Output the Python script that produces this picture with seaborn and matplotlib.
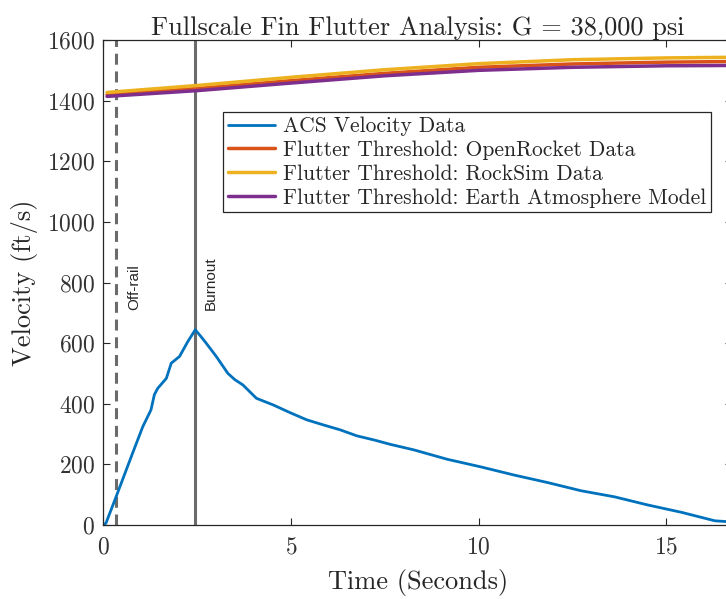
import matplotlib.pyplot as plt
import seaborn as sns

# ACS velocity data
acs_time = [0.0, 0.07, 0.34, 0.78, 1.05, 1.27, 1.36, 1.45, 1.68, 1.81, 2.03, 2.25, 2.45,
            2.6, 2.74, 3.01, 3.32, 3.5, 3.72, 4.08, 4.53, 4.97, 5.42, 5.87, 6.31, 6.76, 7.2,
            7.65, 8.27, 9.16, 10.05, 10.94, 11.84, 12.73, 13.62, 14.51, 15.4, 16.29, 16.75]
acs_vel = [0, 6, 93, 237, 324, 380, 430, 451, 484, 534, 556, 605, 644,
           622, 600, 556, 500, 480, 462, 418, 396, 371, 347, 330, 314, 294, 281,
           266, 248, 217, 192, 165, 140, 113, 93, 66, 42, 14, 10]

# flutter thresholds
thr_time = [0.1, 2.5, 5.0, 7.5, 10.0, 12.5, 15.0, 16.75]
thr_openrocket = [1420, 1440, 1466, 1490, 1510, 1521, 1527, 1529]
thr_rocksim = [1427, 1450, 1477, 1502, 1522, 1535, 1541, 1543]
thr_earth = [1414, 1433, 1458, 1482, 1500, 1510, 1515, 1516]

offrail_t = 0.35
burnout_t = 2.43

labels = ['ACS Velocity Data',
          'Flutter Threshold: OpenRocket Data',
          'Flutter Threshold: RockSim Data',
          'Flutter Threshold: Earth Atmosphere Model']
colors = ['#0072BD', '#D95319', '#EDB120', '#7E2F8E']

sns.set_theme(style='ticks')
plt.rcParams['font.family'] = ['cmr10', 'DejaVu Serif']
plt.rcParams['axes.formatter.use_mathtext'] = True
plt.rcParams['axes.edgecolor'] = '#262626'
plt.rcParams['xtick.color'] = '#262626'
plt.rcParams['ytick.color'] = '#262626'

fig = plt.figure(figsize=(7.26, 5.99), dpi=100)
ax = fig.add_axes([0.1423, 0.1235, 0.866, 0.8097])

ax.axvline(offrail_t, color='#6b6b6b', lw=2.2, ls=(0, (3.6, 2.2)), zorder=1)
ax.axvline(burnout_t, color='#6b6b6b', lw=2.2, zorder=1)

sns.lineplot(x=acs_time, y=acs_vel, ax=ax, color=colors[0], lw=2, label=labels[0])
sns.lineplot(x=thr_time, y=thr_openrocket, ax=ax, color=colors[1], lw=2.5, label=labels[1])
sns.lineplot(x=thr_time, y=thr_rocksim, ax=ax, color=colors[2], lw=2.5, label=labels[2])
sns.lineplot(x=thr_time, y=thr_earth, ax=ax, color=colors[3], lw=2.5, label=labels[3])

ax.text(offrail_t + 0.48, 710, 'Off-rail', rotation=90, family='Liberation Sans',
        fontsize=11, ha='center', va='bottom', color='#262626')
ax.text(burnout_t + 0.42, 710, 'Burnout', rotation=90, family='Liberation Sans',
        fontsize=11, ha='center', va='bottom', color='#262626')

ax.set_xlim(0, 16.75)
ax.set_ylim(0, 1600)
ax.set_xticks([0, 5, 10, 15])
ax.set_yticks(range(0, 1601, 200))
ax.tick_params(direction='in', length=5, width=0.8, top=True, right=True, labelsize=17,
               labelcolor='#333333')
ax.tick_params(axis='x', pad=8)
ax.tick_params(axis='y', pad=6)
for s in ax.spines.values():
    s.set_linewidth(0.9)

ax.set_xlabel('Time (Seconds)', fontsize=19, labelpad=8, color='#262626')
ax.set_ylabel('Velocity (ft/s)', fontsize=19, labelpad=6, color='#262626')
ax.set_title('Fullscale Fin Flutter Analysis: G = 38,000 psi', fontsize=19, pad=4)

leg = ax.legend(loc='upper left', bbox_to_anchor=(0.19, 0.852), borderaxespad=0,
                fontsize=15.5, handlelength=2.2, handletextpad=0.37, fancybox=False,
                framealpha=1, edgecolor='#262626', borderpad=0.22, labelspacing=0.2)
leg.get_frame().set_linewidth(0.9)

fig.savefig('out.png', dpi=100)
